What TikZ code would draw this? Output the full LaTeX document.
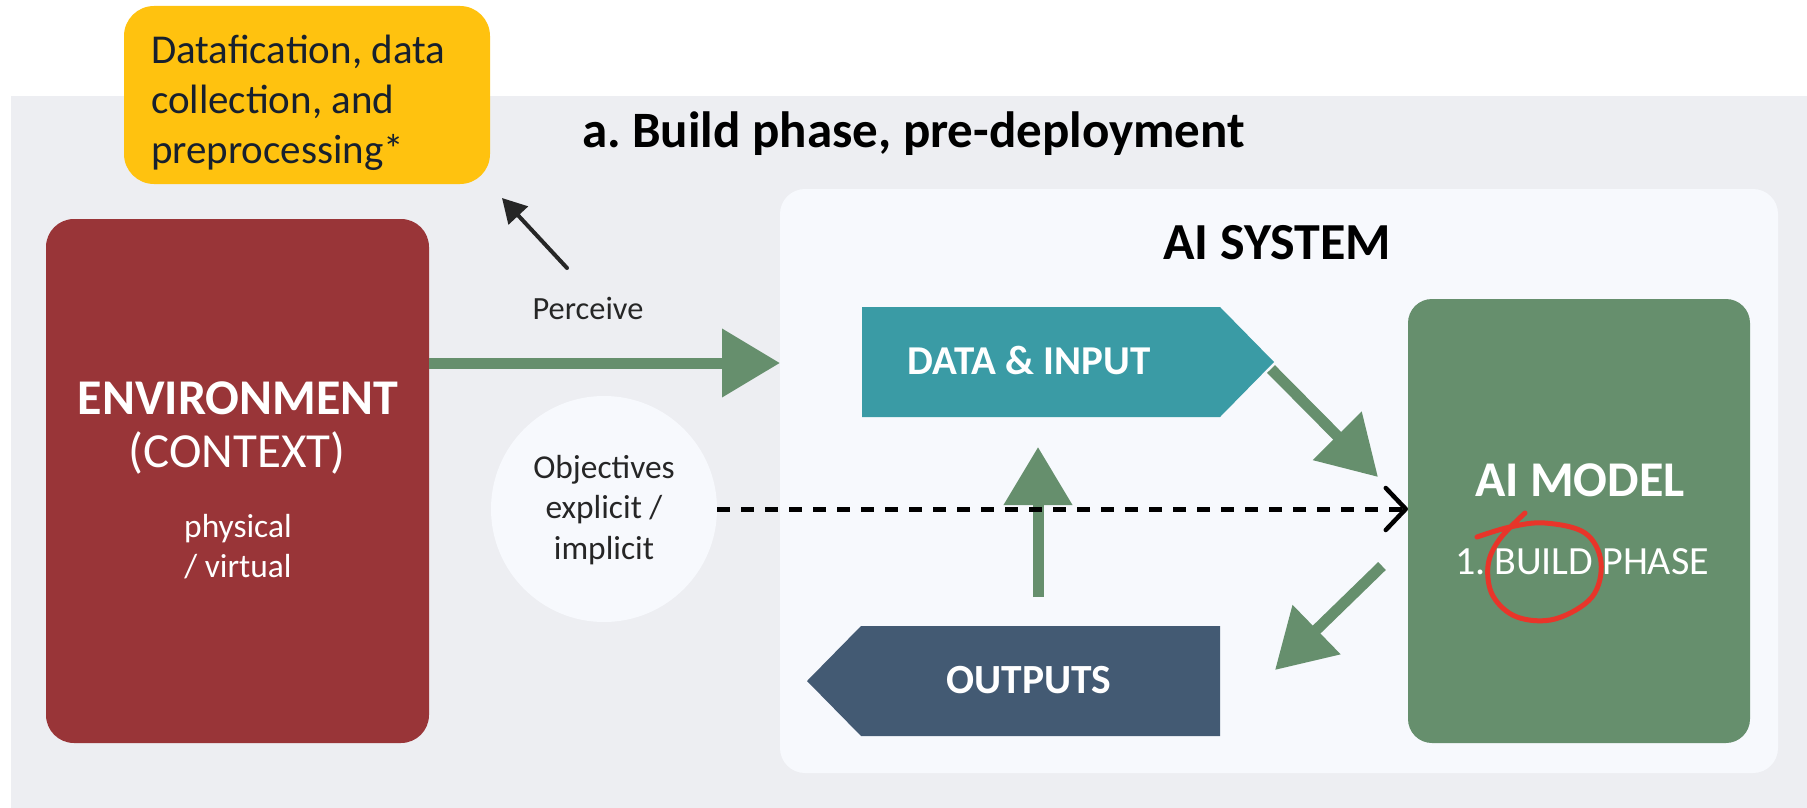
\documentclass[tikz,border=0pt]{standalone}
\usepackage{fontspec}
\setmainfont{Carlito}
\usetikzlibrary{arrows.meta}
\frenchspacing
\definecolor{bggray}{HTML}{EDEEF2}
\definecolor{panelc}{HTML}{F7F9FD}
\definecolor{yel}{HTML}{FFC20F}
\definecolor{envred}{HTML}{993538}
\definecolor{mgreen}{HTML}{668F6D}
\definecolor{tealc}{HTML}{3A9BA5}
\definecolor{slatec}{HTML}{435A73}
\definecolor{ink}{HTML}{262626}
\definecolor{redpen}{HTML}{E8352A}
\definecolor{navyink}{HTML}{17202E}
\tikzset{
  box/.style={inner sep=0pt, outer sep=0pt},
  garrow/.style={draw=mgreen, line width=11pt, -{Triangle[length=58pt,width=66pt]}},
  whitebold/.style={inner sep=0pt, text=white, font=\bfseries\fontsize{50}{58}\selectfont},
  whitereg/.style={inner sep=0pt, text=white, font=\fontsize{49}{58}\selectfont},
}
\begin{document}
\begin{tikzpicture}[x=1pt,y=-1pt]
\useasboundingbox (0,0) rectangle (1807,808);
% backgrounds
\node[box, fill=bggray, minimum width=1796pt, minimum height=712pt, anchor=north west] (bg) at (11,96) {};
\node[box, fill=yel, rounded corners=30pt, minimum width=366pt, minimum height=178pt] (yb) at (307,95) {};
\node[box, anchor=north west, align=left, text=navyink, font=\fontsize{41}{50}\selectfont] (ybt) at (151,35) {Datafication, data\\collection, and\\preprocessing*};
\node[box, anchor=base west, font=\bfseries\fontsize{51}{58}\selectfont] (title) at (582,147) {a. Build phase, pre-deployment};
% environment
\node[box, fill=envred, rounded corners=28pt, minimum width=383pt, minimum height=524pt] (env) at (237.5,481) {};
\node[whitebold, anchor=base] (envA) at (238,414) {ENVIRONMENT};
\node[whitereg, anchor=base] (envB) at (237,467) {(CONTEXT)};
\node[box, text=white, anchor=base, font=\fontsize{33.4}{40}\selectfont] (envC) at (238,537) {physical};
\node[box, text=white, anchor=base, font=\fontsize{33.4}{40}\selectfont] (envD) at (238,577) {/ virtual};
% AI system panel
\node[box, fill=panelc, rounded corners=25pt, minimum width=998pt, minimum height=584pt] (panel) at (1279,481) {};
\node[box, anchor=base, font=\bfseries\fontsize{52}{60}\selectfont] (sys) at (1277,259) {AI SYSTEM};
% objectives circle
\node[box, circle, fill=panelc, minimum size=226pt] (obj) at (604,509) {};
\node[box, anchor=north, align=center, text=ink, font=\fontsize{33.4}{40.5}\selectfont] (objT) at (604,455) {Objectives\\explicit /\\implicit};
% data & input
\fill[tealc] (862,307) -- (1220,307) -- (1274,362) -- (1220,417) -- (862,417) -- cycle;
\coordinate (dintip) at (1274,362);
\node[box, anchor=base, text=white, font=\bfseries\fontsize{41}{48}\selectfont] (din) at (1029,374) {DATA \& INPUT};
% outputs
\fill[slatec] (1220,626) -- (861,626) -- (807,681) -- (861,736) -- (1220,736) -- cycle;
\node[box, anchor=base, text=white, font=\bfseries\fontsize{41.5}{48}\selectfont] (outp) at (1029,693) {OUTPUTS};
% AI model
\node[box, fill=mgreen, rounded corners=24pt, minimum width=342pt, minimum height=444pt] (model) at (1579,521) {};
\node[whitebold, anchor=base] (modA) at (1580,496) {AI MODEL};
\node[box, anchor=base, text=white, font=\fontsize{40}{48}\selectfont] (modB) at (1582,574) {1. BUILD PHASE};
% connectors
\coordinate (pa) at (0,363);
\draw[garrow] (env.east |- pa) -- (panel.west |- pa);
\coordinate (upS) at (1038,597);
\coordinate (upT) at (1038,447);
\draw[garrow] (upS) -- (upT);
\coordinate (d1S) at (1271,369);
\coordinate (d1T) at (1378,477);
\draw[garrow] (d1S) -- (d1T);
\coordinate (d2S) at (1382,566);
\coordinate (d2T) at (1275,670);
\draw[garrow] (d2S) -- (d2T);
\draw[line width=5pt, dash pattern=on 13pt off 11pt, -{Straight Barb[length=20pt,width=42pt,line width=4.5pt,round]}] (obj.east) -- (model.west |- obj.east);
\coordinate (bS) at (567,268);
\coordinate (bT) at (502,198);
\draw[ink, line width=4pt, line cap=round, -{Triangle[length=24pt,width=26pt]}] (bS) -- (bT);
% perceive label
\node[box, anchor=base, text=ink, font=\fontsize{32.4}{38}\selectfont] (perc) at (588,319) {Perceive};
% red pen circle
\draw[redpen, line width=5pt, line cap=round, line join=round] plot[smooth, tension=0.6] coordinates {(1477,537) (1510,527) (1545,523) (1585,533) (1601,562) (1592,597) (1555,619) (1517,617) (1493,596) (1488,566) (1499,540) (1525,513)};
\end{tikzpicture}
\end{document}
